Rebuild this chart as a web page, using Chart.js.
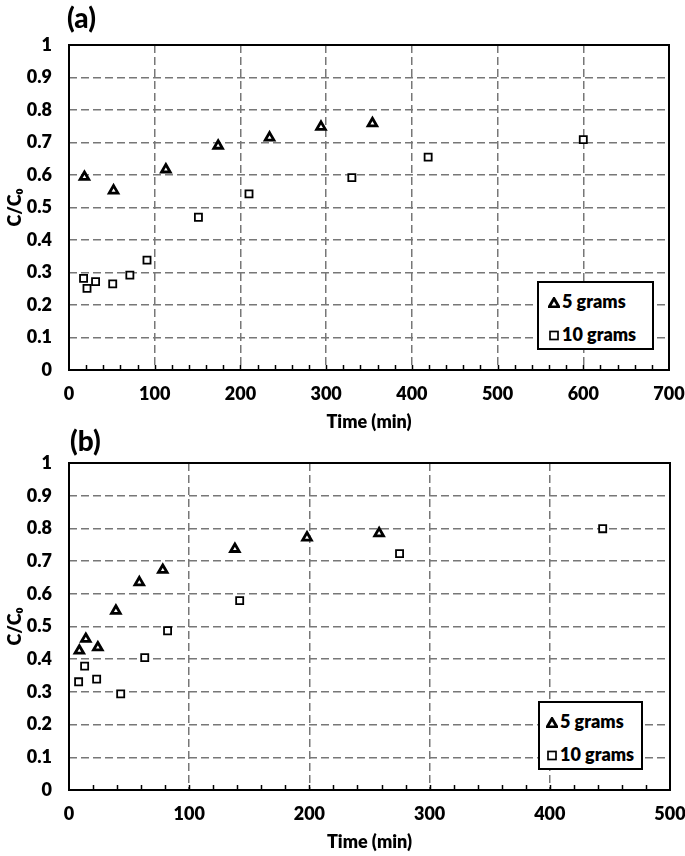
<!DOCTYPE html>
<html>
<head>
<meta charset="utf-8">
<script src="https://cdn.jsdelivr.net/npm/chart.js@4.4.1/dist/chart.umd.min.js"></script>
<style>
  body { margin: 0; background: #fff; font-family: Lato, sans-serif; }
  #wrap { position: relative; width: 685px; height: 856px; }
  canvas { position: absolute; left: 0; }
  .panel { position: absolute; font-weight: 900; font-size: 28px; color: #000; line-height: 30px; }
  .legend { position: absolute; border: 2px solid #000; background: #fff; box-sizing: border-box;
            font-weight: 800; font-size: 18px; color: #000; }
  .legend div { position: absolute; left: 10px; height: 20px; line-height: 20px; white-space: nowrap; }
  .legend svg { vertical-align: middle; margin-right: 2px; position: relative; top: -1px; }
</style>
</head>
<body>
<div id="wrap">
  <canvas id="chartA" width="685" height="433" style="top:0"></canvas>
  <canvas id="chartB" width="685" height="423" style="top:433px"></canvas>
  <div class="panel" style="left:67px; top:2px;">(a)</div>
  <div class="panel" style="left:70px; top:425px;">(b)</div>
  <div class="legend" style="left:537px; top:281px; width:117px; height:69px;">
    <div style="top:8px; left:9px"><svg width="12" height="11"><polygon points="6,1.5 10.8,9.8 1.2,9.8" fill="#fff" stroke="#000" stroke-width="2.8"/></svg>5 grams</div>
    <div style="top:41px; left:9px"><svg width="12" height="11"><rect x="2" y="1.5" width="8" height="8" fill="#fff" stroke="#000" stroke-width="1.7"/></svg>10 grams</div>
  </div>
  <div class="legend" style="left:538px; top:701px; width:105px; height:69px;">
    <div style="top:8px; left:6px"><svg width="12" height="11"><polygon points="6,1.5 10.8,9.8 1.2,9.8" fill="#fff" stroke="#000" stroke-width="2.8"/></svg>5 grams</div>
    <div style="top:41px; left:6px"><svg width="12" height="11"><rect x="2" y="1.5" width="8" height="8" fill="#fff" stroke="#000" stroke-width="1.7"/></svg>10 grams</div>
  </div>
</div>
<script>
// (a) data
const timeA5 = [18, 52, 113, 174, 234, 294, 354];
const ratioA5 = [0.594, 0.552, 0.617, 0.690, 0.715, 0.748, 0.759];
const timeA10 = [17, 21, 31, 51, 71, 91, 151, 210, 330, 419, 600];
const ratioA10 = [0.282, 0.251, 0.272, 0.265, 0.292, 0.338, 0.470, 0.542, 0.592, 0.655, 0.709];

// (b) data
const timeB5 = [8.6, 14, 24, 39, 58.5, 78, 138, 198, 258];
const ratioB5 = [0.426, 0.462, 0.436, 0.548, 0.635, 0.673, 0.737, 0.772, 0.785];
const timeB10 = [8, 13, 23, 43, 63, 82, 142, 275, 444];
const ratioB10 = [0.331, 0.379, 0.339, 0.294, 0.405, 0.487, 0.579, 0.723, 0.799];

const seriesNames = ['5 grams', '10 grams'];
const yTicks = [0, 0.1, 0.2, 0.3, 0.4, 0.5, 0.6, 0.7, 0.8, 0.9, 1];

const FONT = { family: 'Lato, sans-serif', size: 18, weight: 800 };

function pts(xs, ys) {
  return xs.map((x, i) => ({ x: x, y: ys[i] }));
}

// frame round the plot + small inward ticks on the x axis every 20 min
const framePlugin = {
  id: 'frame',
  beforeDatasetsDraw(chart) {
    const { ctx, chartArea: a, scales: { x } } = chart;
    ctx.save();
    ctx.strokeStyle = '#000';
    ctx.lineWidth = 1.5;
    for (let v = 20; v < x.max; v += 20) {
      const px = Math.round(x.getPixelForValue(v)) + 0.5;
      ctx.beginPath();
      ctx.moveTo(px, a.bottom);
      ctx.lineTo(px, a.bottom - 5);
      ctx.stroke();
    }
    ctx.lineWidth = 2;
    ctx.strokeRect(a.left, a.top, a.right - a.left, a.bottom - a.top);
    ctx.restore();
  }
};

function makeChart(id, t5, r5, t10, r10, xMax, pad, xHeight, titlePad) {
  return new Chart(document.getElementById(id), {
    type: 'scatter',
    data: {
      datasets: [{
        label: seriesNames[0],
        data: pts(t5, r5),
        pointStyle: 'triangle',
        pointRadius: 5,
        borderWidth: 2.8,
        borderColor: '#000',
        backgroundColor: '#fff'
      }, {
        label: seriesNames[1],
        data: pts(t10, r10),
        pointStyle: 'rect',
        pointRadius: 5,
        borderWidth: 1.8,
        borderColor: '#000',
        backgroundColor: '#fff'
      }]
    },
    options: {
      responsive: false,
      animation: false,
      devicePixelRatio: 1,
      layout: { padding: pad },
      plugins: { legend: { display: false }, tooltip: { enabled: false } },
      scales: {
        x: {
          type: 'linear', min: 0, max: xMax,
          ticks: { stepSize: 100, color: '#000', font: FONT, padding: 13, maxRotation: 0 },
          grid: { color: '#777', lineWidth: 1.5, drawTicks: false },
          border: { display: false, dash: [8, 4] },
          title: { display: true, text: 'Time (min)', color: '#000', font: FONT, padding: { top: 0, bottom: titlePad } },
          afterFit(s) { s.height = xHeight; s.paddingLeft = 0; s.paddingRight = 0; }
        },
        y: {
          type: 'linear', min: 0, max: 1,
          afterBuildTicks(s) { s.ticks = yTicks.map(v => ({ value: v })); },
          ticks: { color: '#000', font: FONT, padding: 17, callback: v => String(+v.toFixed(1)) },
          grid: { color: '#777', lineWidth: 1.5, drawTicks: false },
          border: { display: false, dash: [8, 4] },
          title: { display: true, text: 'C/C₀', color: '#000', font: FONT, padding: { top: 4, bottom: 0 } },
          afterFit(s) { s.width = 69; }
        }
      }
    },
    plugins: [framePlugin]
  });
}

makeChart('chartA', timeA5, ratioA5, timeA10, ratioA10, 700, { top: 45, right: 16, left: 0, bottom: 0 }, 63, 0);
makeChart('chartB', timeB5, ratioB5, timeB10, ratioB10, 500, { top: 30, right: 15, left: 0, bottom: 0 }, 66, 3);
</script>
</body>
</html>
